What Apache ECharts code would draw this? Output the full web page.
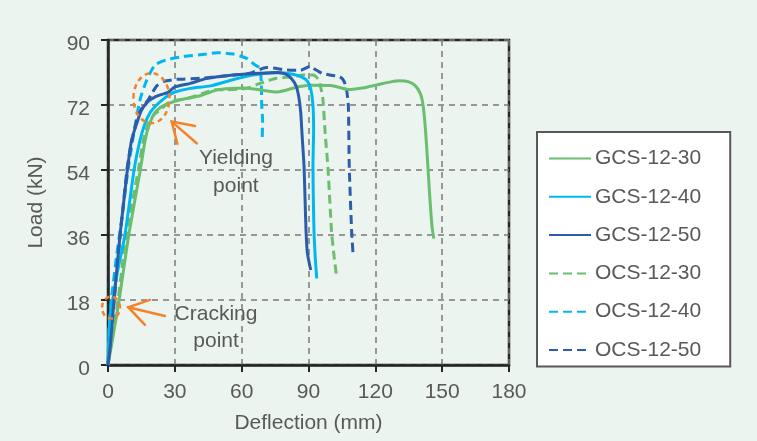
<!DOCTYPE html>
<html>
<head>
<meta charset="utf-8">
<script src="https://cdn.jsdelivr.net/npm/echarts@6/dist/echarts.min.js"></script>
<style>
html,body{margin:0;padding:0;background:#EBF4EE;}
#c{width:757px;height:441px;}
</style>
</head>
<body>
<div id="c"></div>
<script>
// ---- data: [deflection (mm), load (kN)] ----
const seriesNames = ['GCS-12-30','GCS-12-40','GCS-12-50','OCS-12-30','OCS-12-40','OCS-12-50'];
const xTicks = [0,30,60,90,120,150,180];
const yTicks = [0,18,36,54,72,90];

const gcs30 = [[0,0],[2,7],[5,18],[9.3,36],[14.5,54],[16.6,62],[18.5,66.5],[21,69.8],[24,71.5],[27,72.4],[32,73.4],[41,74.5],[49,76.2],[55,76.6],[61,76.7],[68,76.2],[76,75.6],[85,77],[91,77.5],[100,77.4],[108,76.3],[115,76.8],[121,77.6],[127,78.4],[131,78.7],[135,78.4],[138,77.3],[140.3,75],[141.4,72],[142.4,66],[143.5,56],[144.5,46],[145.5,38],[146.3,35]];
const gcs40 = [[0,0],[0.4,8],[1,14],[2.1,18],[4,25],[7.6,36],[11.7,54],[14.4,62.3],[16.6,66.9],[19,70],[21.5,71.8],[24,73.2],[27,74.6],[30,75.6],[37,76.6],[46,77.3],[56,79],[65,80.3],[76,80.9],[83,80.5],[87,79.7],[89.5,78.6],[91,76.5],[92,72],[92.3,65],[92,55],[92.2,45],[92.5,36.5],[93,30],[93.7,24]];
const gcs50 = [[0,0],[1,5],[2.7,18],[5.4,36],[8.7,54],[10.6,62.3],[12.9,66.9],[15,70.5],[18,73],[21,74.2],[24,74.9],[27,75.5],[30,77],[37,78],[44,79.3],[56,80.3],[68,80.8],[76,81],[80,80.5],[82.5,79.2],[84.5,77.2],[85.7,74],[86.5,70],[87,65],[87.5,60],[88,55],[88.5,45],[88.9,37],[89.5,31],[91,26.3]];
const ocs30 = [[0,0],[2,8],[4.5,18],[8.2,36],[13.6,54],[15.9,62.3],[18.1,66.9],[20.5,69.2],[23.3,70.6],[27.8,72.9],[35.3,73.8],[42.6,75.2],[48,76.2],[53.3,76.2],[62.3,76.6],[68.2,78],[75.7,79.4],[83.2,79.8],[87.5,80.3],[92,80.3],[94.5,79],[95.8,76],[96.5,73.4],[97.5,64],[98.7,54.9],[99.6,45],[100.4,36.5],[101.5,30],[102.6,24.5]];
const ocs40 = [[0,0],[0.5,10],[1.5,18],[3.8,30],[6.5,42],[9,54],[11,62],[12.7,68],[14,72.5],[15.1,75],[17.4,78.9],[21.1,83.1],[26.3,84.5],[33.8,85.4],[44.3,86.1],[48.8,86.5],[56.2,86.1],[62.3,84.9],[66,83.1],[68.2,82.2],[68.8,78],[69,72],[69.4,67.8],[69.2,62.3]];
const ocs50 = [[0,0],[1.2,8],[2.8,18],[5.5,36],[8.5,54],[10,60],[11.4,64],[13.2,68.5],[15.1,71],[18.1,73.5],[20,75.5],[21.9,77.3],[24.8,78.5],[30.8,79.1],[41.3,79.4],[52,80],[63.7,80.8],[71.2,82.4],[80.2,81.7],[86.2,81.6],[90.7,82.7],[92.1,82.2],[96,80.8],[99.6,80.3],[104.1,79.8],[106,78.5],[107.1,76.2],[107.9,71.5],[108.3,54.9],[109.4,36.5],[110.1,30]];

// annotation anchor points (data coordinates)
const yieldEllipse = [19.5, 73.9];
const yieldArrowTip = [28.6, 67.4];
const yieldText = [57.4, 53.4];
const crackEllipse = [1.35, 15.9];
const crackArrowTip = [9.1, 16];
const crackText = [48.5, 10.4];

const colors = ['#6BBE6E','#00B8F0','#2B5DAB','#6BBE6E','#00B8F0','#2B5DAB'];
const datasets = [gcs30,gcs40,gcs50,ocs30,ocs40,ocs50];
const textColor = '#595959';
const orange = '#F5822A';
const font = 'Liberation Sans, Arial, sans-serif';

const chart = echarts.init(document.getElementById('c'), null, {renderer:'canvas'});

const series = datasets.map((d,i)=>({
  name: seriesNames[i],
  type: 'line',
  data: d,
  showSymbol: false,
  symbol: 'none',
  smooth: 0.2,
  lineStyle: {color: colors[i], width: 3, type: i<3 ? 'solid' : [9,5]},
  itemStyle: {color: colors[i]},
  z: i<3 ? 3 : 2
}));

chart.setOption({
  animation: false,
  backgroundColor: '#EBF4EE',
  color: colors,
  grid: {left:108, top:40, width:401, height:325, show:true, borderColor:'#262626', borderWidth:2.5, backgroundColor:'transparent'},
  legend: {
    orient: 'vertical', left: 537, top: 132,
    padding: [16, 29, 6, 11],
    itemGap: 17.3, itemWidth: 42, itemHeight: 14,
    backgroundColor: '#ffffff', borderColor: '#595959', borderWidth: 2,
    selectedMode: false,
    itemStyle: {opacity: 0, borderWidth: 0},
    textStyle: {fontSize: 21, color: textColor, fontFamily: font, lineHeight: 21, padding:[0,0,0,-1]},
    data: seriesNames
  },
  xAxis: {
    type: 'value', min: 0, max: 180, interval: 30,
    name: 'Deflection (mm)', nameLocation: 'middle', nameGap: 48,
    nameTextStyle: {fontSize: 21, color: textColor, fontFamily: font},
    axisLine: {show: true, onZero: false, lineStyle: {color: '#262626', width: 2.5}},
    axisTick: {show: true, length: 7, lineStyle: {color: '#262626', width: 2}},
    axisLabel: {fontSize: 21, color: textColor, margin: 17, fontFamily: font},
    splitLine: {show: true, lineStyle: {color: '#7a7a7a', width: 1.5, type: [6,5]}}
  },
  yAxis: {
    type: 'value', min: 0, max: 90, interval: 18,
    name: 'Load (kN)', nameLocation: 'middle', nameGap: 61,
    nameTextStyle: {fontSize: 21, color: textColor, fontFamily: font},
    axisLine: {show: true, onZero: false, lineStyle: {color: '#262626', width: 2.5}},
    axisTick: {show: true, length: 7, lineStyle: {color: '#262626', width: 2}},
    axisLabel: {fontSize: 21, color: textColor, margin: 18, fontFamily: font, verticalAlign: 'top', lineHeight: 8},
    splitLine: {show: true, lineStyle: {color: '#7a7a7a', width: 1.5, type: [6,5]}}
  },
  series: series
});

function px(p){ return chart.convertToPixel({gridIndex:0}, p); }

const ye = px(yieldEllipse), ya = px(yieldArrowTip), yt = px(yieldText);
const ce = px(crackEllipse), ca = px(crackArrowTip), ct = px(crackText);
const arrowStyle = {stroke: orange, lineWidth: 2.5, fill: null, lineCap:'round'};

chart.setOption({
  graphic: [
    {type:'ellipse', shape:{cx:ye[0], cy:ye[1], rx:18, ry:25}, style:{stroke:orange, lineWidth:2.5, fill:null, lineDash:[5,4]}, z:10},
    {type:'polyline', shape:{points:[[ya[0]+23.3,ya[1]+4.3],[ya[0],ya[1]],[ya[0]+5.7,ya[1]+22.3]]}, style:arrowStyle, z:10},
    {type:'line', shape:{x1:ya[0], y1:ya[1], x2:ya[0]+25, y2:ya[1]+21.7}, style:arrowStyle, z:10},
    {type:'text', x:yt[0], y:yt[1], style:{text:'Yielding\npoint', fill:textColor, fontSize:21, lineHeight:28, align:'center', verticalAlign:'middle', fontFamily:font}, z:10},
    {type:'ellipse', shape:{cx:ce[0], cy:ce[1], rx:9, ry:11}, style:{stroke:orange, lineWidth:2.5, fill:null, lineDash:[5,4]}, z:10},
    {type:'polyline', shape:{points:[[ca[0]+21.7,ca[1]-7.3],[ca[0],ca[1]],[ca[0]+16.7,ca[1]+17.7]]}, style:arrowStyle, z:10},
    {type:'line', shape:{x1:ca[0], y1:ca[1], x2:ca[0]+36.7, y2:ca[1]+8.7}, style:arrowStyle, z:10},
    {type:'text', x:ct[0], y:ct[1], style:{text:'Cracking\npoint', fill:textColor, fontSize:21, lineHeight:27, align:'center', verticalAlign:'middle', fontFamily:font}, z:10}
  ]
});
</script>
</body>
</html>
